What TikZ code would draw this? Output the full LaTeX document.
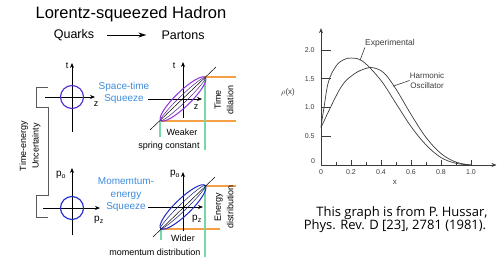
\documentclass[tikz,border=0pt]{standalone}
\usepackage{fontspec}
\setmainfont{Liberation Sans}
\newfontfamily\capfont{Open Sans}
\usetikzlibrary{arrows.meta,positioning}
\definecolor{sqblue}{RGB}{60,140,220}
\definecolor{circviolet}{RGB}{80,40,210}
\definecolor{ellviolet}{RGB}{140,50,225}
\definecolor{circblue}{RGB}{30,40,200}
\definecolor{guideorange}{RGB}{245,160,70}
\definecolor{guidegreen}{RGB}{120,215,165}
\definecolor{plotgray}{RGB}{60,60,60}

\begin{document}
\begin{tikzpicture}[x=1pt, y=-1pt, every node/.style={font=\fontsize{9}{10}\selectfont, inner sep=0pt},
  >={Stealth[length=5pt, width=4pt]},
  axis/.style={->, line width=0.7pt},
  qcirc/.style={line width=1.1pt},
  guide/.style={line width=1.2pt},
  blue text/.style={text=sqblue, align=center, font=\fontsize{10}{12.5}\selectfont},
  side/.style={rotate=90, align=center, font=\fontsize{9}{12.5}\selectfont}]
  \useasboundingbox (0,0) rectangle (504,260);

  % title and quarks -> partons
  \node[font=\fontsize{16.5}{18}\selectfont] (title) at (131,14) {Lorentz-squeezed Hadron};
  \node[font=\fontsize{12.5}{14}\selectfont] (quarks) at (74,35) {Quarks};
  \node[font=\fontsize{12.5}{14}\selectfont, right=67pt of quarks] (partons) {Partons};
  \draw[->, line width=0.8pt, >={Stealth[length=8pt, width=5pt]}, shorten <=13pt, shorten >=15pt]
    (quarks.east) -- (quarks.east -| partons.west);

  % quarks: round hadrons
  \draw[axis] (72,132) -- (72,63);
  \draw[axis] (45,97) -- (95,97);
  \draw[qcirc, circviolet] (72,97) circle[radius=11.5pt];
  \node (t1) at (67,66) {t};
  \node (z1) at (96,104) {z};
  \draw[axis] (72,235) -- (72,168);
  \draw[axis] (43,208) -- (100,208);
  \draw[qcirc, circblue] (72,208) circle[radius=11.5pt];
  \node[font=\fontsize{10}{11}\selectfont] (po1) at (61,175) {p\textsubscript{o}};
  \node[font=\fontsize{10}{11}\selectfont] (pz1) at (99,220) {p\textsubscript{z}};

  % uncertainty bracket
  \draw[gray!70!black, line width=0.6pt] (48,87) -- (36,87) -- (36,107) -- (48,107) -- (48,195)
    -- (36,195) -- (36,217) -- (48,217);
  \node[side] (unc) at (30,146) {Time-energy\\Uncertainty};

  % squeeze labels
  \node[blue text] (stsq) at (124,93) {Space-time\\Squeeze};
  \node[blue text] (mesq) at (126,195) {Momemtum-\\energy\\Squeeze};

  % partons: squeezed hadrons
  \draw[guide, draw=guideorange] (204,77) -- (236,77);
  \draw[guide, draw=guideorange] (160,121) -- (236,121);
  \draw[guide, draw=guidegreen] (205,77) -- (205,150);
  \draw[guide, draw=guidegreen] (160,121) -- (160,137);
  \draw[axis] (183,118) -- (183,62);
  \draw[axis] (148,99) -- (202,99);
  \draw[line width=0.5pt] (150,130) -- (216,67);
  \draw[ellviolet, line width=1pt, rotate around={44:(183,99)}] (183,99) ellipse[x radius=31pt, y radius=7.5pt];
  \draw[ellviolet!60!black, line width=0.5pt, rotate around={44:(183,99)}] (183,99) ellipse[x radius=31pt, y radius=3.5pt];
  \node (t2) at (174,66) {t};
  \node (z2) at (196,107) {z};
  \node[side] (dil) at (224,100) {Time\\dilation};
  \node (weak) at (182,132) {Weaker};
  \node (spring) at (169,146) {spring constant};

  \draw[guide, draw=guideorange] (205,186) -- (236,186);
  \draw[guide, draw=guideorange] (161,229) -- (220,229);
  \draw[guide, draw=guidegreen] (205,186) -- (205,257);
  \draw[guide, draw=guidegreen] (161,229) -- (161,240);
  \draw[axis] (183,231) -- (183,172);
  \draw[axis] (148,207) -- (203,207);
  \draw[line width=0.5pt] (153,237) -- (215,177);
  \draw[circblue, line width=1pt, rotate around={44:(183,207)}] (183,207) ellipse[x radius=31pt, y radius=8pt];
  \draw[circblue!60!black, line width=0.5pt, rotate around={44:(183,207)}] (183,207) ellipse[x radius=31pt, y radius=3.5pt];
  \node[font=\fontsize{10}{11}\selectfont] (po2) at (175,174) {p\textsubscript{o}};
  \node[font=\fontsize{10}{11}\selectfont] (pz2) at (197,219) {p\textsubscript{z}};
  \node[side] (edist) at (224,207) {Energy\\distribution};
  \node (wider) at (183,238) {Wider};
  \node (mdist) at (155,252) {momentum distribution};

  % Hussar's distribution
  \begin{scope}[shift={(321,165)}, x=150pt, y=57.5pt, plotgray, line width=0.6pt,
    every node/.style={font=\fontsize{7}{8}\selectfont, text=plotgray, inner sep=0pt}]
    \draw[->] (0,0) -- (0,2.38);
    \draw[->] (0,0) -- (1.17,0);
    \foreach \v in {0.5,1.0,1.5,2.0} \draw (0,\v) -- ++(10pt,0);
    \foreach \i in {2,4,...,10} \draw (\i/10,0) -- ++(0,5pt);
    \foreach \i in {1,3,...,9} \draw (\i/10,0) -- ++(0,3pt);
    \foreach \v [count=\k] in {0.5,1.0,1.5,2.0} \node (ylab\k) at (-0.075,\v) {\v};
    \foreach \v [count=\k] in {0.2,0.4,0.6,0.8,1.0} \node (xlab\k) at (\v,-0.13) {\v};
    \node (yzero) at (-0.053,0.07) {0};
    \node (xzero) at (0,-0.13) {0};
    \node[font=\fontsize{8}{9}\selectfont] (rho) at (-0.22,1.27) {$\rho$(x)};
    \node[font=\fontsize{8}{9}\selectfont] (xvar) at (0.493,-0.3) {x};
    \draw[line width=0.7pt] plot[smooth, tension=0.6] coordinates {(0,0.66) (0.02,1.0) (0.05,1.45) (0.1,1.72)
      (0.15,1.83) (0.205,1.86) (0.28,1.8) (0.4,1.47) (0.5,1.07) (0.6,0.67) (0.7,0.35) (0.8,0.13) (0.9,0.03) (1.0,0)};
    \draw[line width=0.7pt] plot[smooth, tension=0.6] coordinates {(0,0.65) (0.13,1.34) (0.22,1.58) (0.3,1.68)
      (0.35,1.69) (0.42,1.6) (0.5,1.32) (0.6,0.88) (0.7,0.48) (0.8,0.2) (0.9,0.05) (1.0,0)};
    \node[font=\fontsize{8.5}{9}\selectfont] (expl) at (0.46,2.12) {Experimental};
    \coordinate (expt) at (0.26,1.82);
    \draw (expl.south west) -- (expt);
    \node[font=\fontsize{8}{10}\selectfont, align=center] (harl) at (0.707,1.47) {Harmonic\\Oscillator};
    \coordinate (hpt) at (0.48,1.37);
    \draw (harl.west) -- (hpt);
  \end{scope}

  \node[font=\capfont\fontsize{13}{13}\selectfont] (cap1) at (402,213) {This graph is from P. Hussar,};
  \node[font=\capfont\fontsize{13}{13}\selectfont] (cap2) at (395,226) {Phys. Rev. D [23], 2781 (1981).};
\end{tikzpicture}
\end{document}
